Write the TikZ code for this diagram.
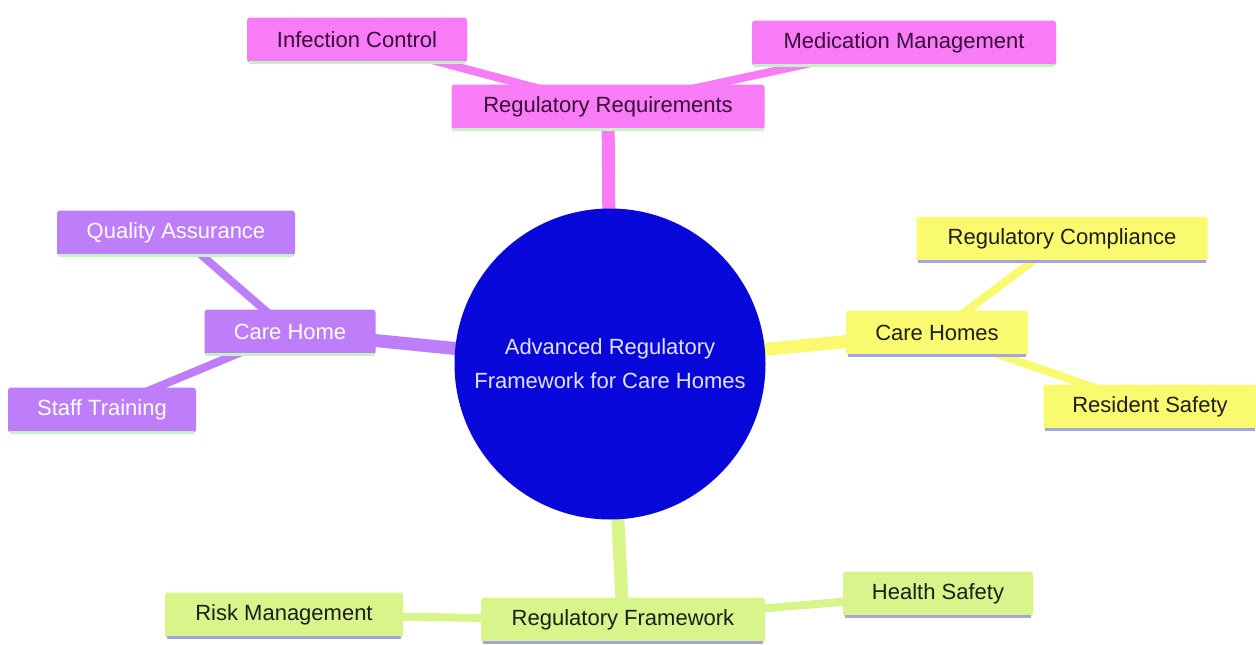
\documentclass[tikz,border=0pt]{standalone}
\usepackage{fontspec}
\setmainfont{Liberation Sans}
\usetikzlibrary{backgrounds}
\definecolor{cpink}{RGB}{248,124,245}
\definecolor{cpurple}{RGB}{190,126,250}
\definecolor{cyellow}{RGB}{250,250,112}
\definecolor{cgreen}{RGB}{216,245,140}
\definecolor{cblue}{RGB}{8,8,218}
\definecolor{lgreenline}{RGB}{196,242,196}
\definecolor{lavline}{RGB}{164,164,228}
\definecolor{pinktext}{RGB}{60,12,60}
\definecolor{darktext}{RGB}{30,30,30}
\definecolor{circtext}{RGB}{226,226,255}
\begin{document}
\begin{tikzpicture}[x=1pt,y=-1pt,
  box/.style={rectangle, rounded corners=3pt, inner sep=0pt, minimum height=45pt,
    font=\fontsize{22}{26}\selectfont},
  pinkbox/.style={box, fill=cpink, text=pinktext},
  purplebox/.style={box, fill=cpurple, text=white},
  yellowbox/.style={box, fill=cyellow, text=darktext},
  greenbox/.style={box, fill=cgreen, text=darktext},
  mainedge/.style={line width=13pt},
  subedge/.style={line width=8pt},
  bline/.style={line width=3pt}
]
\useasboundingbox (0,0) rectangle (1256,645);

% center
\node[circle, fill=cblue, minimum size=311pt, inner sep=0pt, text=circtext,
  align=center, font=\fontsize{22}{34}\selectfont] (root) at (610,364)
  {Advanced Regulatory\\Framework for Care Homes};

% first level
\node[pinkbox, minimum width=313pt] (rr) at (608,107) {Regulatory Requirements};
\node[purplebox, minimum width=171pt] (ch) at (290,332) {Care Home};
\node[yellowbox, minimum width=182pt] (chs) at (937,333) {Care Homes};
\node[greenbox, minimum width=284pt] (rf) at (623,620) {Regulatory Framework};

% leaves
\node[pinkbox, minimum width=220pt] (ic) at (357,40) {Infection Control};
\node[pinkbox, minimum width=304pt] (mm) at (904,43) {Medication Management};
\node[purplebox, minimum width=238pt] (qa) at (176,233) {Quality Assurance};
\node[purplebox, minimum width=188pt] (st) at (102,410) {Staff Training};
\node[yellowbox, minimum width=291pt] (rc) at (1062,239) {Regulatory Compliance};
\node[yellowbox, minimum width=213pt] (rs) at (1150,407) {Resident Safety};
\node[greenbox, minimum width=238pt] (rm) at (284,615) {Risk Management};
\node[greenbox, minimum width=190pt] (hs) at (938,594) {Health Safety};

% bottom lines
\foreach \n in {rr,ic,mm,ch,qa,st}{
  \draw[bline, lgreenline] ([xshift=2pt]\n.south west) -- ([xshift=-2pt]\n.south east);
}
\foreach \n in {chs,rc,rs,rf,rm,hs}{
  \draw[bline, lavline] ([xshift=2pt]\n.south west) -- ([xshift=-2pt]\n.south east);
}

\begin{scope}[on background layer]
  \fill[white] (0,0) rectangle (1256,645);
  \draw[mainedge, cpink] (root.center) -- (rr.center);
  \draw[mainedge, cpurple] (root.center) -- (ch.center);
  \draw[mainedge, cyellow] (root.center) -- (chs.center);
  \draw[mainedge, cgreen] (root.center) -- (rf.center);
  \draw[subedge, cpink] (rr.center) -- (ic.center);
  \draw[subedge, cpink] (rr.center) -- (mm.center);
  \draw[subedge, cpurple] (ch.center) -- (qa.center);
  \draw[subedge, cpurple] (ch.center) -- (st.center);
  \draw[subedge, cyellow] (chs.center) -- (rc.center);
  \draw[subedge, cyellow] (chs.center) -- (rs.center);
  \draw[subedge, cgreen] (rf.center) -- (rm.center);
  \draw[subedge, cgreen] (rf.center) -- (hs.center);
\end{scope}
\end{tikzpicture}
\end{document}
